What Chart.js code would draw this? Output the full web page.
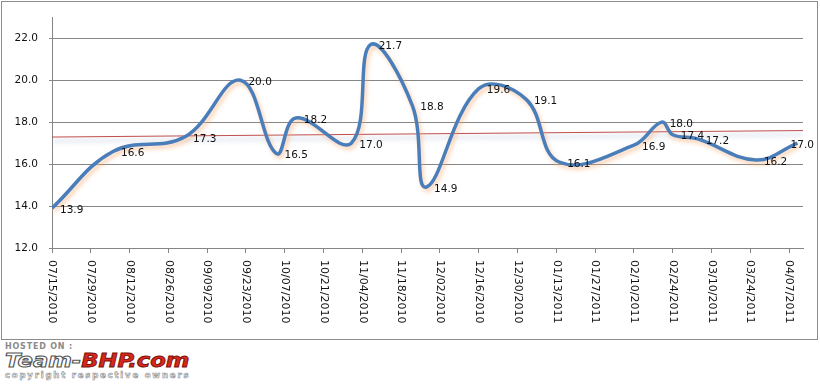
<!DOCTYPE html>
<html>
<head>
<meta charset="utf-8">
<script src="https://cdn.jsdelivr.net/npm/chart.js@4"></script>
<style>
html, body { margin: 0; padding: 0; background: #fff; }
#wrap { position: relative; width: 820px; height: 384px; overflow: hidden; }
#frame { position: absolute; left: 1px; top: 1px; width: 815px; height: 337px; border: 1px solid #8c8c8c; pointer-events: none; }
#chart { position: absolute; left: 0; top: 0; }
#wm { position: absolute; left: 5px; top: 342px; font-family: 'DejaVu Sans', sans-serif; }
#wm .hosted { font-size: 8px; font-weight: bold; color: #8a8a8a; letter-spacing: 0.8px; line-height: 9px; }
#wm .logo { font-size: 22px; font-weight: bold; font-style: italic; line-height: 21px; white-space: nowrap;
  transform: scale(1.03, 0.9); transform-origin: left top; }
#wm .team { color: #fff; -webkit-text-stroke: 1.2px #555; }
#wm .bhp { color: #d8281c; -webkit-text-stroke: 1px #7a1008; }
#wm .copy { font-size: 8.5px; font-weight: bold; color: #fff; -webkit-text-stroke: 0.6px #888; letter-spacing: 1.8px; line-height: 9px; white-space: nowrap; margin-top: -1px; }
</style>
</head>
<body>
<div id="wrap">
  <canvas id="chart" width="820" height="340"></canvas>
  <div id="frame"></div>
  <div id="wm">
    <div class="hosted">HOSTED ON :</div>
    <div class="logo"><span class="team">Team-</span><span class="bhp">BHP.com</span></div>
    <div class="copy">copyright respective owners</div>
  </div>
</div>
<script>
// readings
const dates = ['07/15/2010', '08/06/2010', '09/01/2010', '09/21/2010', '10/04/2010', '10/11/2010',
    '10/31/2010', '11/07/2010', '11/22/2010', '11/27/2010', '12/16/2010', '01/02/2011',
    '01/14/2011', '02/10/2011', '02/20/2011', '02/24/2011', '03/05/2011', '03/26/2011', '04/10/2011'];
const values = [13.9, 16.6, 17.3, 20.0, 16.5, 18.2, 17.0, 21.7, 18.8, 14.9, 19.6, 19.1,
    16.1, 16.9, 18.0, 17.4, 17.2, 16.2, 17.0];

// linear trendline, read at both ends of the axis
const trendValues = [17.29, 17.6];

const tickDates = ['07/15/2010', '07/29/2010', '08/12/2010', '08/26/2010', '09/09/2010', '09/23/2010',
    '10/07/2010', '10/21/2010', '11/04/2010', '11/18/2010', '12/02/2010', '12/16/2010', '12/30/2010',
    '01/13/2011', '01/27/2011', '02/10/2011', '02/24/2011', '03/10/2011', '03/24/2011', '04/07/2011'];
const axisRange = ['07/15/2010', '04/12/2011'];
const yTicks = [12, 14, 16, 18, 20, 22];
const yRange = [12, 23];

function toUTC(s) {
    const [m, d, y] = s.split('/').map(Number);
    return Date.UTC(y, m - 1, d);
}
const base = toUTC(axisRange[0]);
const dayOf = s => (toUTC(s) - base) / 864e5;

const GRID = '#868686';
const FONT = 'DejaVu Sans';

const shadows = {
    id: 'shadows',
    beforeDatasetDraw(chart, args) {
        const ctx = chart.ctx;
        ctx.save();
        if (args.index === 0) {
            ctx.shadowColor = 'rgba(245, 165, 105, 0.55)';
            ctx.shadowOffsetX = 2;
            ctx.shadowOffsetY = 3;
            ctx.shadowBlur = 4;
        } else {
            ctx.shadowColor = 'rgba(150, 170, 200, 0.9)';
            ctx.shadowOffsetX = 0;
            ctx.shadowOffsetY = 4;
            ctx.shadowBlur = 5;
        }
    },
    afterDatasetDraw(chart) {
        chart.ctx.restore();
    }
};

const valueLabels = {
    id: 'valueLabels',
    afterDatasetsDraw(chart) {
        const ctx = chart.ctx;
        const meta = chart.getDatasetMeta(0);
        ctx.save();
        ctx.font = '10.5px "' + FONT + '"';
        ctx.fillStyle = '#111';
        ctx.textBaseline = 'middle';
        ctx.textAlign = 'left';
        meta.data.forEach((pt, i) => {
            const txt = values[i].toFixed(1);
            const w = ctx.measureText(txt).width;
            const x = Math.min(pt.x + 8, 814 - w);
            ctx.fillText(txt, x, pt.y + 2);
        });
        ctx.restore();
    }
};

const dateLabels = {
    id: 'dateLabels',
    afterDraw(chart) {
        const ctx = chart.ctx;
        const xs = chart.scales.x;
        ctx.save();
        ctx.font = '11px "' + FONT + '"';
        ctx.fillStyle = '#111';
        ctx.textBaseline = 'middle';
        ctx.textAlign = 'left';
        tickDates.forEach(d => {
            const x = xs.getPixelForValue(dayOf(d));
            ctx.save();
            ctx.translate(x, xs.top + 12);
            ctx.rotate(Math.PI / 2);
            ctx.fillText(d, 0, 0);
            ctx.restore();
        });
        ctx.restore();
    }
};

new Chart(document.getElementById('chart'), {
    type: 'line',
    data: {
        datasets: [{
            data: dates.map((d, i) => ({ x: dayOf(d), y: values[i] })),
            borderColor: '#4a7ebb',
            borderWidth: 3.5,
            tension: 0.4,
            pointRadius: 0,
            fill: false
        }, {
            data: axisRange.map((d, i) => ({ x: dayOf(d), y: trendValues[i] })),
            borderColor: '#c0504d',
            borderWidth: 1,
            tension: 0,
            pointRadius: 0,
            fill: false
        }]
    },
    options: {
        responsive: false,
        animation: false,
        devicePixelRatio: 1,
        layout: { padding: { top: 15, right: 17, left: 0, bottom: 0 } },
        plugins: { legend: { display: false }, tooltip: { enabled: false } },
        scales: {
            x: {
                type: 'linear',
                min: dayOf(axisRange[0]),
                max: dayOf(axisRange[1]),
                afterBuildTicks: s => { s.ticks = tickDates.map(d => ({ value: dayOf(d) })); },
                afterFit: s => { s.height = 92; },
                ticks: { display: false },
                grid: { drawOnChartArea: false, drawTicks: true, tickLength: 5, color: GRID },
                border: { color: GRID }
            },
            y: {
                min: yRange[0],
                max: yRange[1],
                afterBuildTicks: s => { s.ticks = yTicks.map(v => ({ value: v })); },
                afterFit: s => { s.width = 52; },
                ticks: {
                    padding: 11,
                    color: '#111',
                    font: { family: FONT, size: 10.5 },
                    callback: v => v.toFixed(1)
                },
                grid: { color: GRID, tickLength: 3 },
                border: { color: GRID }
            }
        }
    },
    plugins: [shadows, valueLabels, dateLabels]
});
</script>
</body>
</html>
